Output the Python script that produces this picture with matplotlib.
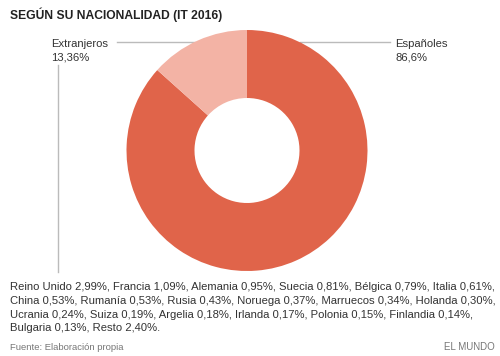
import matplotlib
matplotlib.use("Agg")
import matplotlib.pyplot as plt

plt.rcParams['font.family'] = ['Liberation Sans', 'DejaVu Sans']

title = "SEGÚN SU NACIONALIDAD (IT 2016)"
categories = ["Españoles", "Extranjeros"]
values = [86.6, 13.36]
value_labels = ["86,6%", "13,36%"]
colors = ["#E0644A", "#F3B3A5"]
detail_lines = [
    "Reino Unido 2,99%, Francia 1,09%, Alemania 0,95%, Suecia 0,81%, Bélgica 0,79%, Italia 0,61%,",
    "China 0,53%, Rumanía 0,53%, Rusia 0,43%, Noruega 0,37%, Marruecos 0,34%, Holanda 0,30%,",
    "Ucrania 0,24%, Suiza 0,19%, Argelia 0,18%, Irlanda 0,17%, Polonia 0,15%, Finlandia 0,14%,",
    "Bulgaria 0,13%, Resto 2,40%.",
]
source = "Fuente: Elaboración propia"
brand = "EL MUNDO"

W, H = 500, 356
fig = plt.figure(figsize=(W / 100, H / 100), dpi=100)
ax = fig.add_axes([0, 0, 1, 1])
ax.set_xlim(0, W)
ax.set_ylim(0, H)
ax.set_aspect('equal')
ax.axis('off')

cx, cy, r = 247, H - 150.5, 120.5
ax.pie(values, colors=colors, startangle=90, counterclock=False,
       center=(cx, cy), radius=r,
       wedgeprops=dict(width=r - 52.5, edgecolor='none', linewidth=0))
ax.set_xlim(0, W)
ax.set_ylim(0, H)

line_c = "#BBBBBB"
# Españoles leader
ax.plot([300, 390], [H - 42, H - 42], color=line_c, lw=1, zorder=0)
# Extranjeros leaders
ax.plot([117, 195], [H - 42, H - 42], color=line_c, lw=1, zorder=0)
ax.plot([58, 58], [H - 65, H - 272], color=line_c, lw=1, zorder=0)

fs = 8.1
tc = "#333333"
for x0, name, val in [(395, categories[0], value_labels[0]),
                      (51, categories[1], value_labels[1])]:
    ax.text(x0, H - 44, name, fontsize=fs, color=tc, ha='left', va='center')
    ax.text(x0, H - 57.5, val, fontsize=fs, color=tc, ha='left', va='center')

fig.text(10 / W, 1 - 15 / H, title, fontsize=8.7, fontweight='bold', color="#222222",
         ha='left', va='center')

for i, ln in enumerate(detail_lines):
    fig.text(10 / W, 1 - (287 + i * 13.8) / H, ln, fontsize=fs, color=tc,
             ha='left', va='center')

fig.text(10 / W, 1 - 347 / H, source, fontsize=6.8, color="#777777", ha='left', va='center')
fig.text(495 / W, 1 - 347 / H, brand, fontsize=7, color="#777777", ha='right', va='center')

fig.savefig("out.png", dpi=100)
